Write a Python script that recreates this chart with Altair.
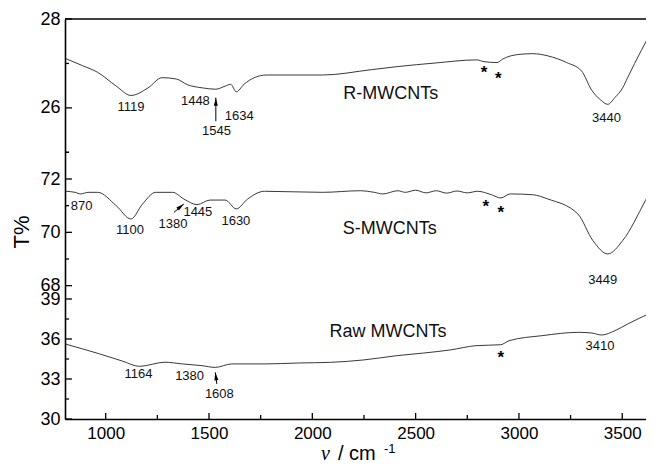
import altair as alt
import pandas as pd

# ---------------- spectra: wavenumber (cm-1) / transmittance (%) ----------------
R_WN = [806, 888, 961, 1051, 1122, 1205, 1273, 1342, 1396, 1469, 1533, 1578, 1605, 1632, 1669,
        1778, 2049, 2286, 2414, 2595, 2795, 2831, 2894, 2922, 2994, 3067, 3140, 3231, 3303,
        3352, 3395, 3430, 3464, 3502, 3526, 3560, 3592, 3627]
R_T = [27.11, 26.95, 26.80, 26.49, 26.28, 26.45, 26.68, 26.65, 26.52, 26.45, 26.42, 26.49, 26.53,
       26.36, 26.53, 26.74, 26.74, 26.86, 26.93, 27.01, 27.08, 27.04, 27.02, 27.10, 27.20, 27.22,
       27.17, 27.02, 26.83, 26.40, 26.18, 26.08, 26.23, 26.45, 26.68, 27.00, 27.29, 27.60]

S_WN = [805, 852, 879, 915, 961, 1051, 1122, 1178, 1242, 1324, 1378, 1442, 1505, 1578, 1632, 1687,
        1768, 2049, 2232, 2300, 2341, 2414, 2450, 2500, 2550, 2600, 2650, 2700, 2750, 2800, 2867,
        2912, 2958, 3067, 3140, 3285, 3358, 3430, 3502, 3612, 3640]
S_T = [71.54, 71.50, 71.44, 71.50, 71.50, 71.00, 70.50, 71.06, 71.50, 71.50, 71.25, 71.04, 71.21,
       71.21, 70.88, 71.25, 71.54, 71.50, 71.56, 71.50, 71.44, 71.56, 71.50, 71.58, 71.48, 71.56,
       71.47, 71.55, 71.48, 71.54, 71.41, 71.29, 71.44, 71.41, 71.25, 70.69, 69.69, 69.19, 69.69,
       71.19, 71.60]

W_WN = [803, 971, 1080, 1163, 1287, 1370, 1466, 1530, 1610, 1770, 1930, 2089, 2249, 2409, 2540,
        2668, 2792, 2912, 2952, 3112, 3288, 3352, 3400, 3464, 3527, 3627]
W_T = [35.63, 34.88, 34.35, 33.95, 34.26, 34.13, 34.00, 33.87, 34.13, 34.13, 34.20, 34.25, 34.43,
       34.75, 34.95, 35.18, 35.50, 35.57, 35.87, 36.25, 36.50, 36.45, 36.30, 36.62, 37.13, 37.88]

# panel ranges of the broken T% axis (low, high, stacking slot from bottom)
PANELS = {"R": (25, 28, 2), "S": (68, 73, 1), "W": (30, 40, 0)}

# ---------------- annotations ----------------
PEAK_PANEL = ["R", "R", "R", "R", "R", "S", "S", "S", "S", "S", "S", "W", "W", "W", "W"]
PEAK_TEXT = ["1119", "1448", "1545", "1634", "3440", "870", "1100", "1380", "1445", "1630", "3449",
             "1164", "1380", "1608", "3410"]
PEAK_WN = [1122, 1434, 1536, 1646, 3424, 883, 1118, 1326, 1446, 1630, 3406, 1159, 1406, 1550, 3392]
PEAK_T = [26.02, 26.15, 25.47, 25.81, 25.77, 71.00, 70.09, 70.31, 70.75, 70.44, 68.21,
          33.38, 33.25, 31.88, 35.44]

NAME_PANEL = ["R", "S", "W"]
NAME_TEXT = ["R-MWCNTs", "S-MWCNTs", "Raw MWCNTs"]
NAME_WN = [2380, 2375, 2366]
NAME_T = [26.31, 70.13, 36.55]

STAR_PANEL = ["R", "R", "S", "S", "W"]
STAR_WN = [2831, 2900, 2840, 2912, 2912]
STAR_T = [26.87, 26.74, 71.09, 70.88, 34.88]

ARROW_PANEL = ["R", "S", "W"]
ARROW_WN0 = [1533, 1330, 1538]
ARROW_T0 = [25.70, 70.75, 32.63]
ARROW_WN1 = [1533, 1378, 1530]
ARROW_T1 = [26.23, 71.06, 33.50]
HEAD_WN = [1533, 1363, 1533]
HEAD_T = [26.14, 70.97, 33.20]
HEAD_ANGLE = [0, 50, 352]

X_MAJOR = [1000, 1500, 2000, 2500, 3000, 3500]
X_MINOR = [1250, 1750, 2250, 2750, 3250]
Y_MAJOR = {"R": [26, 28], "S": [68, 70, 72], "W": [30, 33, 36, 39]}
Y_MINOR = {"R": [25, 27], "S": [69, 71, 73], "W": [31.5, 34.5, 37.5]}


def common(panel, v):
    lo, hi, slot = PANELS[panel]
    return slot + (v - lo) / (hi - lo)


W = 581
H = 400
FONT = "Liberation Sans"

spec = pd.concat([
    pd.DataFrame({"panel": p, "wn": wn, "T": t})
    for p, wn, t in [("R", R_WN, R_T), ("S", S_WN, S_T), ("W", W_WN, W_T)]
])
spec["yc"] = [common(p, v) for p, v in zip(spec["panel"], spec["T"])]

peaks = pd.DataFrame({"panel": PEAK_PANEL, "label": PEAK_TEXT, "wn": PEAK_WN,
                      "yc": [common(p, v) for p, v in zip(PEAK_PANEL, PEAK_T)]})
names = pd.DataFrame({"label": NAME_TEXT, "wn": NAME_WN,
                      "yc": [common(p, v) for p, v in zip(NAME_PANEL, NAME_T)]})
stars = pd.DataFrame({"label": ["*"] * len(STAR_WN), "wn": STAR_WN,
                      "yc": [common(p, v) for p, v in zip(STAR_PANEL, STAR_T)]})
arrows = pd.DataFrame({
    "wn": ARROW_WN0, "wn2": ARROW_WN1,
    "yc": [common(p, v) for p, v in zip(ARROW_PANEL, ARROW_T0)],
    "yc2": [common(p, v) for p, v in zip(ARROW_PANEL, ARROW_T1)],
})
heads = pd.DataFrame({"wn": HEAD_WN, "ang": HEAD_ANGLE,
                      "yc": [common(p, v) for p, v in zip(ARROW_PANEL, HEAD_T)]})

yvals = [common(p, v) for p in ["W", "S", "R"] for v in Y_MAJOR[p]]
ymaj = pd.DataFrame({"yc": yvals})
ymin = pd.DataFrame({"yc": [common(p, v) for p in ["W", "S", "R"] for v in Y_MINOR[p]]})
xmaj = pd.DataFrame({"wn": X_MAJOR})
xmin = pd.DataFrame({"wn": X_MINOR})

label_expr = ("datum.value < 0.95 ? '' + round(30 + datum.value * 10) : "
              "datum.value < 1.95 ? '' + round(68 + (datum.value - 1) * 5) : "
              "'' + round(25 + (datum.value - 2) * 3)")

xa = alt.X("wn:Q", scale=alt.Scale(domain=[803, 3615], nice=False, zero=False),
           axis=alt.Axis(values=X_MAJOR, format="d", title=None, ticks=False, tickSize=0,
                         grid=False, labelFont=FONT, labelFontSize=17, labelColor="black",
                         labelPadding=6, labelFlush=False, domainColor="black", domainWidth=1.6))
ya = alt.Y("yc:Q", scale=alt.Scale(domain=[0, 3], nice=False, zero=False),
           axis=alt.Axis(values=yvals, labelExpr=label_expr, title=None, ticks=False,
                         tickSize=0, grid=False, labelFont=FONT, labelFontSize=18,
                         labelColor="black", labelPadding=5, labelOverlap=False,
                         labelFlush=False, domainColor="black", domainWidth=1.6))

lines = alt.Chart(spec).mark_line(color="#222222", strokeWidth=0.9, interpolate="monotone",
                                  clip=True).encode(x=xa, y=ya, detail="panel:N")

xt_major = alt.Chart(xmaj).mark_rule(color="black", strokeWidth=1.3).encode(
    x=xa, y=alt.value(H), y2=alt.value(H - 6))
xt_minor = alt.Chart(xmin).mark_rule(color="black", strokeWidth=1.3).encode(
    x=xa, y=alt.value(H), y2=alt.value(H - 4))
yt_major = alt.Chart(ymaj).mark_rule(color="black", strokeWidth=1.3).encode(
    y=ya, x=alt.value(0), x2=alt.value(7))
yt_minor = alt.Chart(ymin).mark_rule(color="black", strokeWidth=1.3).encode(
    y=ya, x=alt.value(0), x2=alt.value(4))

top_line = alt.Chart(pd.DataFrame({"a": [0]})).mark_rule(color="black", strokeWidth=1.6).encode(
    x=alt.value(0), x2=alt.value(W), y=alt.value(0))

peak_text = alt.Chart(peaks).mark_text(font=FONT, fontSize=13, color="#111111",
                                       align="center", baseline="middle").encode(
    x=xa, y=ya, text="label:N")
name_text = alt.Chart(names).mark_text(font=FONT, fontSize=18, color="#111111",
                                       align="center", baseline="middle").encode(
    x=xa, y=ya, text="label:N")
star_text = alt.Chart(stars).mark_text(font=FONT, fontSize=17, fontWeight="bold", color="black",
                                       align="center", baseline="middle", dy=4).encode(
    x=xa, y=ya, text="label:N")
arrow_lines = alt.Chart(arrows).mark_rule(color="black", strokeWidth=1).encode(
    x=xa, x2="wn2:Q", y=ya, y2="yc2:Q")
arrow_heads = alt.Chart(heads).mark_point(shape="M0,-1L0.5,1L-0.5,1Z", filled=True, size=64,
                                          color="black", opacity=1).encode(
    x=xa, y=ya, angle=alt.Angle("ang:Q", scale=None))

t_title = alt.Chart(pd.DataFrame({"t": ["T%"]})).mark_text(
    font=FONT, fontSize=22, angle=270, align="center", baseline="middle", color="black").encode(
    text="t:N", x=alt.value(-43), y=alt.value(213))
nu = alt.Chart(pd.DataFrame({"t": ["ν"]})).mark_text(
    font="Liberation Serif", fontSize=20, fontStyle="italic", align="left",
    baseline="alphabetic", color="black").encode(text="t:N", x=alt.value(256), y=alt.value(441))
cm = alt.Chart(pd.DataFrame({"t": ["/ cm"]})).mark_text(
    font=FONT, fontSize=20, align="left", baseline="alphabetic", color="black").encode(
    text="t:N", x=alt.value(273), y=alt.value(441))
sup = alt.Chart(pd.DataFrame({"t": ["-1"]})).mark_text(
    font=FONT, fontSize=13, align="left", baseline="alphabetic", color="black").encode(
    text="t:N", x=alt.value(319), y=alt.value(434))

chart = alt.layer(
    lines, xt_major, xt_minor, yt_major, yt_minor, top_line,
    arrow_lines, arrow_heads, peak_text, name_text, star_text, t_title, nu, cm, sup
).properties(
    width=W, height=H,
    autosize=alt.AutoSizeParams(type="none"),
    padding={"left": 57, "top": 11, "right": 0, "bottom": 46},
).configure_view(stroke=None)

chart.save("out.html", embed_options={"renderer": "svg", "actions": False})
